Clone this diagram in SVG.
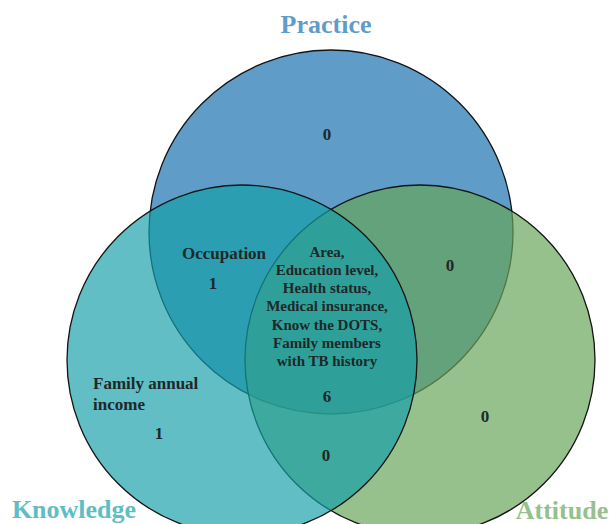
<svg xmlns="http://www.w3.org/2000/svg" width="609" height="524" viewBox="0 0 609 524">
<style>
.set{stroke:#141414;stroke-width:1.3}
.title{font-family:"Liberation Serif","Times New Roman",serif;font-weight:bold;font-size:26px;text-anchor:middle}
.lbl{font-family:"Liberation Serif","Times New Roman",serif;font-weight:bold;fill:#1e2828}
.c{text-anchor:middle;font-size:15px}
.s{font-size:17px}
.n{text-anchor:middle;font-size:17px}
</style>
<rect width="609" height="524" fill="#ffffff"/>
<g id="practice">
<circle class="set" cx="331" cy="232" r="182" fill="#5f9dc8"/>
<text class="title" x="326" y="33" fill="#5f9dc8">Practice</text>
</g>
<g id="attitude">
<circle class="set" cx="420" cy="360" r="175" fill="#67a458" fill-opacity="0.69"/>
<text class="title" x="562" y="519" fill="#96c08c">Attitude</text>
</g>
<g id="knowledge">
<circle class="set" cx="242" cy="360" r="175" fill="#149fa8" fill-opacity="0.68"/>
<text class="title" x="74" y="518" fill="#5fbec4">Knowledge</text>
</g>
<g id="region-practice"><text class="lbl n" x="327" y="140">0</text></g>
<g id="region-practice-knowledge">
<text class="lbl s" x="182" y="259">Occupation</text>
<text class="lbl n" x="213" y="289">1</text>
</g>
<g id="region-practice-attitude"><text class="lbl n" x="450" y="271">0</text></g>
<g id="region-all">
<text class="lbl c" x="327" y="257">Area,</text>
<text class="lbl c" x="327" y="275">Education level,</text>
<text class="lbl c" x="327" y="293">Health status,</text>
<text class="lbl c" x="327" y="311">Medical insurance,</text>
<text class="lbl c" x="327" y="329.5">Know the DOTS,</text>
<text class="lbl c" x="327" y="348">Family members</text>
<text class="lbl c" x="327" y="366">with TB history</text>
<text class="lbl n" x="327" y="402">6</text>
</g>
<g id="region-knowledge">
<text class="lbl s" x="93" y="389">Family annual</text>
<text class="lbl s" x="93" y="410">income</text>
<text class="lbl n" x="159" y="439">1</text>
</g>
<g id="region-attitude"><text class="lbl n" x="485" y="422">0</text></g>
<g id="region-knowledge-attitude"><text class="lbl n" x="326" y="461">0</text></g>
</svg>
